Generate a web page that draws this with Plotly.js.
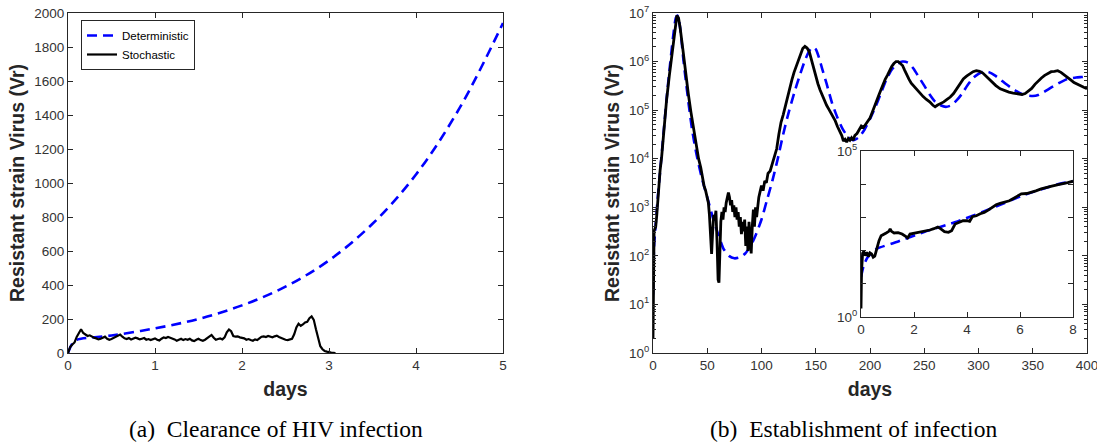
<!DOCTYPE html>
<html>
<head>
<meta charset="utf-8">
<script src="https://cdn.plot.ly/plotly-3.0.1.min.js"></script>
<style>html,body{margin:0;padding:0;background:#fff;}#chart{width:1097px;height:448px;}</style>
</head>
<body>
<div id="chart"></div>
<script>
// ---------- Panel (a): Clearance of HIV infection ----------
const detA_t = [0, 0.05, 0.1, 0.15, 0.5, 1.0, 1.5, 2.0, 2.5, 3.0, 3.5, 4.0, 4.5, 5.0];
const detA_v = [0, 55, 78, 84, 103, 145, 200, 280, 390, 545, 760, 1050, 1440, 1941];

const stoA_t = [0,0.025,0.05,0.075,0.1,0.125,0.15,0.175,0.2,0.225,0.25,0.275,0.3,0.325,0.35,0.375,0.4,0.425,0.45,0.475,
  0.5,0.525,0.55,0.575,0.6,0.625,0.65,0.675,0.7,0.725,0.75,0.775,0.8,0.825,0.85,0.875,0.9,0.925,0.95,0.975,
  1.0,1.025,1.05,1.075,1.1,1.125,1.15,1.175,1.2,1.225,1.25,1.275,1.3,1.325,1.35,1.375,1.4,1.425,1.45,1.475,
  1.5,1.525,1.55,1.575,1.6,1.625,1.65,1.675,1.7,1.725,1.75,1.775,1.8,1.825,1.85,1.875,1.9,1.925,1.95,1.975,
  2.0,2.025,2.05,2.075,2.1,2.125,2.15,2.175,2.2,2.225,2.25,2.275,2.3,2.325,2.35,2.375,2.4,2.425,2.45,2.475,
  2.5,2.525,2.55,2.575,2.6,2.625,2.65,2.675,2.7,2.725,2.75,2.775,2.8,2.825,2.85,2.875,2.9,2.925,2.95,2.975,
  3.0,3.025,3.05,3.075];
const stoA_v = [0,35,50,62,95,118,140,118,108,100,104,96,90,86,80,84,92,96,84,78,
  82,88,92,100,108,96,86,82,88,80,84,90,86,80,84,88,78,82,76,80,
  86,78,74,84,92,88,94,90,86,80,72,78,84,76,82,78,84,74,70,78,
  84,76,72,78,88,100,106,90,78,82,86,80,92,122,138,128,100,96,98,92,
  90,86,78,82,76,72,80,76,86,96,98,94,100,96,92,98,102,94,88,84,
  78,76,80,84,110,150,172,160,168,180,184,205,215,195,140,80,40,22,12,8,
  4,2,1,0];

// ---------- Panel (b): Establishment of infection ----------
const detB_t = [0,1,2,4,6,8,10,13,16,19,21,22.5,24,26,28,30,33,36,40,45,50,55,60,65,70,75,80,85,90,95,100,105,110,115,120,125,130,135,140,144,147,150,153,156,160,165,170,175,180,185,190,195,200,205,210,215,220,225,230,235,240,245,250,255,260,265,270,275,280,285,290,295,300,305,310,315,320,325,330,335,340,345,350,355,360,365,370,375,380,385,390,395,400];
const detB_v = [16,160,320,1.26e3,4e3,1.23e4,4e4,2.2e5,1e6,4e6,7.9e6,8.9e6,7e6,3.2e6,1.1e6,4.5e5,1.26e5,4e4,1.26e4,4e3,1.6e3,630,280,140,100,89,93,112,160,280,560,1.4e3,3.5e3,1e4,3.2e4,8.9e4,2.2e5,5e5,1.05e6,1.66e6,2e6,1.8e6,1.2e6,7e5,3.5e5,1.4e5,7e4,4e4,2.8e4,2.4e4,2.8e4,4e4,6.6e4,1.17e5,2.2e5,4.2e5,6.8e5,8.9e5,1e6,9.5e5,7.2e5,4.8e5,3.2e5,2.1e5,1.5e5,1.26e5,1.17e5,1.26e5,1.6e5,2.2e5,3.3e5,4.6e5,5.6e5,6.3e5,6e5,5.2e5,4.3e5,3.5e5,2.9e5,2.45e5,2.15e5,2e5,1.95e5,2.05e5,2.35e5,2.75e5,3.2e5,3.7e5,4.2e5,4.5e5,4.7e5,4.8e5,4.9e5];

const stoB_t = [0,0.3,0.6,1.0,1.5,2.5,3.5,5,6.5,8,10,12.5,15,17.5,20,22,23.5,25,27.5,30,32.5,35,37.5,40,42,44,45.5,47,48.5,50,51,52,53,54,55,56,57,58,59,60,60.8,61.5,62.5,63.5,64.5,65.5,66.5,67.5,68.5,69.5,70.5,71.5,72.5,73.5,74.5,75.5,76.5,77.5,78.5,79.5,80.5,81.5,82.5,83.5,84.5,85.5,86.5,87.5,88.5,89.5,90.5,91.5,92.5,93.5,94.5,95.5,96.5,97.5,98.5,100,101.5,103,104.5,106,108,110,112,114,116,118,120,122,124,126,128,130,132,134,136,138,140,142,144,146,148,150,152,154,156,158,160,162,164,166,168,170,172,174,175.5,177,178.5,180,181.5,183,184.5,186,188,190,192,194,196,198,200,202,204,206,208,210,212,214,216,218,220,222,224,226,228,230,232,234,236,238,240,243,246,249,252,255,258,260,262,265,268,271,274,277,280,283,286,289,292,295,298,301,304,307,310,313,316,320,324,328,332,336,340,343,346,349,352,355,358,361,364,367,370,373,376,379,382,385,388,391,394,397,400];
const stoB_v = [2,80,63,320,350,400,700,2500,5600,1.1e4,4e4,1.6e5,5e5,1.4e6,5e6,8.9e6,8e6,5e6,1.8e6,5.8e5,2.2e5,9e4,4e4,1.8e4,1e4,6.6e3,4e3,2.8e3,2.2e3,1.6e3,1.25e3,700,320,110,320,700,560,850,200,32,28,200,500,800,560,1000,800,1250,1600,2000,1600,1100,1400,800,1100,630,1000,560,800,400,630,280,500,320,560,160,400,126,500,250,112,400,900,400,1000,630,1250,1600,2000,2800,2200,3500,3200,5000,5600,8000,1.1e4,1.6e4,3.2e4,5.6e4,8e4,1.26e5,1.8e5,2.8e5,4.2e5,6e5,8e5,1.1e6,1.4e6,1.86e6,2.05e6,1.9e6,1.6e6,1.1e6,7e5,4.8e5,3.5e5,2.6e5,2e5,1.5e5,1.26e5,1.05e5,8.7e4,7e4,6e4,4.6e4,3.8e4,3e4,2.3e4,2.5e4,2.2e4,2.6e4,2.4e4,2.7e4,2.4e4,3e4,3.3e4,4e4,4.7e4,4.4e4,5.2e4,5.8e4,6.9e4,8.9e4,1.2e5,1.5e5,2e5,2.6e5,3.5e5,4.3e5,5.2e5,6.6e5,7.9e5,9.1e5,1e6,1e6,9.3e5,8.3e5,6.6e5,5.2e5,4.3e5,3.6e5,3.2e5,2.6e5,2.2e5,1.9e5,1.66e5,1.48e5,1.26e5,1.17e5,1.26e5,1.35e5,1.48e5,1.66e5,1.86e5,2.2e5,2.8e5,3.5e5,4.4e5,5e5,5.6e5,6.2e5,6.5e5,6.3e5,5.8e5,5e5,4.3e5,3.6e5,3.2e5,2.75e5,2.5e5,2.35e5,2.25e5,2.15e5,2.1e5,2.2e5,2.45e5,2.8e5,3.4e5,4e5,4.6e5,5.2e5,5.8e5,6.2e5,6.3e5,6.5e5,6e5,5.4e5,4.7e5,4.2e5,3.7e5,3.4e5,3.2e5,2.95e5,2.75e5];

// ---------- Inset of panel (b): first 8 days ----------
const detI_t = [0,0.1,0.25,0.5,0.63,1.38,2.38,3.64,4.89,6.14,7.4,8.0];
const detI_v = [16,35,63,100,117,186,363,759,1820,4680,9770,1.23e4];
const stoI_t = [0,0.02,0.06,0.1,0.16,0.22,0.28,0.34,0.4,0.46,0.52,0.6,0.68,0.76,0.85,0.95,1.05,1.1,1.15,1.25,1.4,1.55,1.7,1.76,1.85,2.0,2.15,2.3,2.45,2.6,2.75,2.9,3.0,3.15,3.3,3.42,3.55,3.7,3.85,4.0,4.1,4.2,4.35,4.5,4.65,4.8,4.95,5.1,5.25,5.45,5.6,5.75,5.9,6.05,6.25,6.4,6.6,6.8,7.0,7.2,7.4,7.6,7.8,8.0];
const stoI_v = [1.8,23,83,93,71,89,66,85,79,63,68,126,200,280,316,340,380,447,380,340,347,316,263,240,316,331,355,363,398,417,457,513,457,372,355,398,631,724,794,794,759,1047,1122,1288,1413,1660,1995,2400,2630,2880,3160,3715,4470,5130,5250,5620,6310,7240,7760,8710,9550,1.02e4,1.12e4,1.23e4];

// tick labels
const ticksA_x = [0,1,2,3,4,5];
const ticksA_y = [0,200,400,600,800,1000,1200,1400,1600,1800,2000];
const ticksB_x = [0,50,100,150,200,250,300,350,400];
const ticksB_yExp = [0,1,2,3,4,5,6,7];
const ticksI_x = [0,2,4,6,8];
const ticksI_yLabelled = [0,5];
const ticksI_yMinorExp = [1,2,3,4];
const legendNames = ['Deterministic','Stochastic'];
const captions = ['(a)\u00a0\u00a0Clearance of HIV infection','(b)\u00a0\u00a0Establishment of infection'];
const xTitle = 'days';
const yTitle = 'Resistant strain Virus (Vr)';

// ---------- styling ----------
const BLUE = '#0000ff', BLACK = '#000000', AX = '#262626';
const tickFont = {family: 'Liberation Sans, Arial, sans-serif', size: 13.5, color: '#333333'};
const titleFont = {family: 'Liberation Sans, Arial, sans-serif', size: 19.5, color: '#262626', weight: 'bold'};
const dashStyle = {color: BLUE, width: 2.6, dash: '10px,6px'};

function baseAxis(extra) {
  return Object.assign({
    showline: true, linecolor: AX, linewidth: 1, mirror: 'ticks',
    ticks: 'inside', ticklen: 5, tickcolor: AX, tickwidth: 1,
    showgrid: false, zeroline: false, tickfont: tickFont, automargin: false,
    ticklabeloverflow: 'allow'
  }, extra);
}

const decVals = e => e.map(k => Math.pow(10, k));
const sup = k => '10<sup>' + k + '</sup>';
function minorLog(maxExp) {
  const out = [];
  for (let k = 0; k < maxExp; k++) for (let m = 2; m <= 9; m++) out.push(m * Math.pow(10, k));
  return out;
}

const traces = [
  {x: detA_t, y: detA_v, xaxis: 'x', yaxis: 'y', name: legendNames[0], mode: 'lines',
   line: Object.assign({shape: 'spline', smoothing: 1}, dashStyle), showlegend: true},
  {x: stoA_t, y: stoA_v, xaxis: 'x', yaxis: 'y', name: legendNames[1], mode: 'lines',
   line: {color: BLACK, width: 2.2}, showlegend: true},
  {x: detB_t, y: detB_v, xaxis: 'x2', yaxis: 'y2', name: legendNames[0], mode: 'lines',
   line: Object.assign({shape: 'spline', smoothing: 0.6}, dashStyle), showlegend: false},
  {x: stoB_t, y: stoB_v, xaxis: 'x2', yaxis: 'y2', name: legendNames[1], mode: 'lines',
   line: {color: BLACK, width: 2.8}, showlegend: false},
  {x: detI_t, y: detI_v, xaxis: 'x3', yaxis: 'y3', name: legendNames[0], mode: 'lines',
   line: Object.assign({shape: 'spline', smoothing: 0.6}, dashStyle), showlegend: false},
  {x: stoI_t, y: stoI_v, xaxis: 'x3', yaxis: 'y3', name: legendNames[1], mode: 'lines',
   line: {color: BLACK, width: 2.8}, showlegend: false}
];

const W = 1097, H = 448;
const px = v => v / W, py = v => 1 - v / H;

const layout = {
  width: W, height: H,
  margin: {l: 0, r: 0, t: 0, b: 0},
  paper_bgcolor: '#ffffff', plot_bgcolor: '#ffffff',
  showlegend: true,
  legend: {x: px(81), y: py(20), xanchor: 'left', yanchor: 'top',
    bgcolor: '#ffffff', bordercolor: AX, borderwidth: 1,
    font: {family: 'Liberation Sans, Arial, sans-serif', size: 11.5, color: '#000'},
    tracegroupgap: 0, itemwidth: 30},
  xaxis: baseAxis({domain: [px(68), px(503)], anchor: 'y', range: [0, 5],
    tickmode: 'array', tickvals: ticksA_x,
    title: {text: xTitle, font: titleFont, standoff: 10}}),
  yaxis: baseAxis({domain: [py(353), py(13)], anchor: 'x', range: [0, 2000],
    tickmode: 'array', tickvals: ticksA_y,
    title: {text: yTitle, font: titleFont, standoff: 4}}),
  xaxis2: baseAxis({domain: [px(653), px(1087)], anchor: 'y2', range: [0, 400],
    tickmode: 'array', tickvals: ticksB_x,
    title: {text: xTitle, font: titleFont, standoff: 10}}),
  yaxis2: baseAxis({domain: [py(353), py(13)], anchor: 'x2', type: 'log', range: [0, 7],
    tickmode: 'array', tickvals: decVals(ticksB_yExp), ticktext: ticksB_yExp.map(sup),
    minor: {ticks: 'inside', ticklen: 3, tickcolor: AX, tickmode: 'array', tickvals: minorLog(7), showgrid: false},
    title: {text: yTitle, font: titleFont, standoff: 4}}),
  xaxis3: baseAxis({domain: [px(861), px(1073)], anchor: 'y3', range: [0, 8],
    tickmode: 'array', tickvals: ticksI_x}),
  yaxis3: baseAxis({domain: [py(317), py(151)], anchor: 'x3', type: 'log', range: [0, 5],
    tickmode: 'array', tickvals: decVals(ticksI_yLabelled), ticktext: ticksI_yLabelled.map(sup),
    minor: {ticks: 'inside', ticklen: 5, tickcolor: AX, tickmode: 'array', tickvals: decVals(ticksI_yMinorExp), showgrid: false}}),
  annotations: [
    {text: captions[0], xref: 'paper', yref: 'paper', x: px(276), y: py(429), xanchor: 'center', yanchor: 'middle',
     showarrow: false, font: {family: 'Liberation Serif, Times New Roman, serif', size: 23.5, color: '#000'}},
    {text: captions[1], xref: 'paper', yref: 'paper', x: px(853), y: py(429), xanchor: 'center', yanchor: 'middle',
     showarrow: false, font: {family: 'Liberation Serif, Times New Roman, serif', size: 23.5, color: '#000'}}
  ]
};

Plotly.newPlot('chart', traces, layout, {staticPlot: true, displayModeBar: false});
</script>
</body>
</html>
